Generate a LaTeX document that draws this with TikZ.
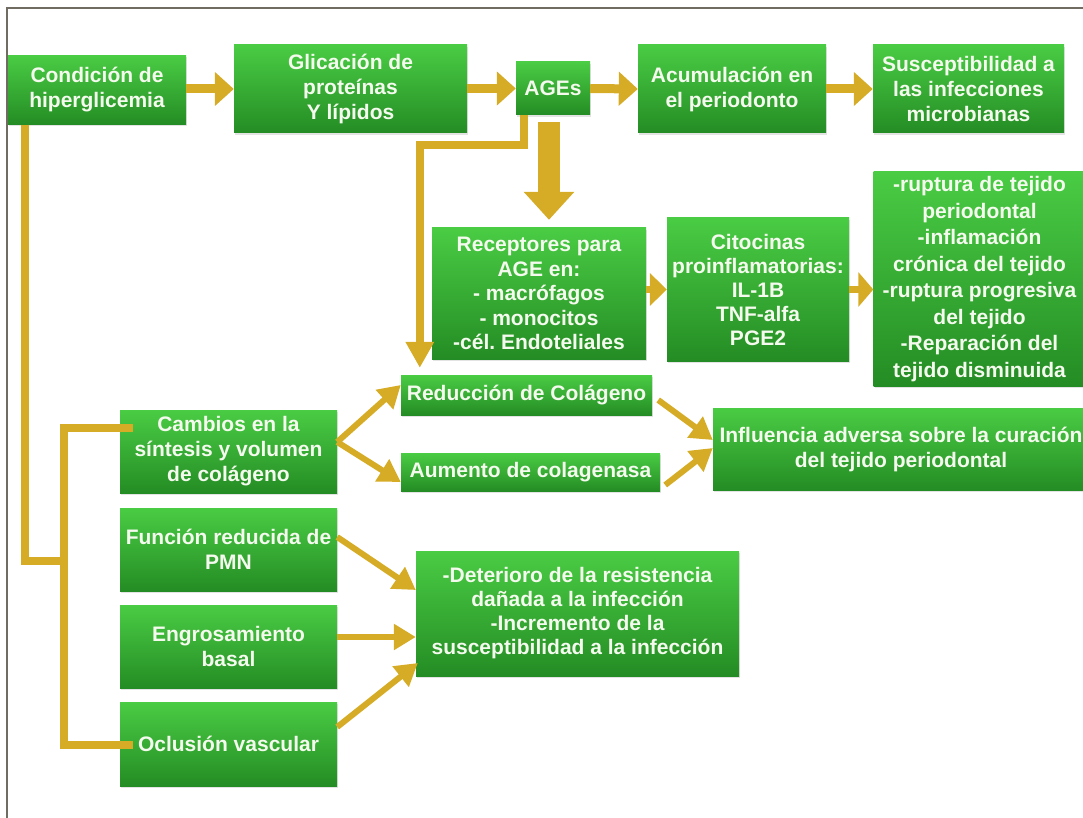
\documentclass[tikz,border=0pt]{standalone}
\usepackage{fontspec}
\setmainfont{Liberation Sans}
\usetikzlibrary{arrows.meta,shadows}
\definecolor{gold}{RGB}{214,172,38}
\definecolor{greentop}{RGB}{74,204,68}
\definecolor{greenbot}{RGB}{36,140,36}
\definecolor{boxtext}{RGB}{244,250,238}
\definecolor{framegray}{RGB}{112,108,98}

\begin{document}
\frenchspacing
\begin{tikzpicture}[x=1pt,y=-1pt,
  box/.style={rectangle, inner sep=0pt, align=center, text=boxtext,
    font=\fontsize{21}{25}\selectfont\bfseries,
    top color=greentop, bottom color=greenbot,
    drop shadow={opacity=0.22,shadow xshift=1pt,shadow yshift=-2pt}},
  sz/.style 2 args={minimum width=#1pt, minimum height=#2pt},
  blockarrow/.style={draw=gold, line width=9pt,
    -{Triangle[length=19pt,width=33pt]}},
  bigdown/.style={draw=gold, line width=22pt,
    -{Triangle[length=28pt,width=49pt]}},
  feed/.style={draw=gold, line width=8pt, line join=miter,
    -{Triangle[length=26pt,width=27pt]}},
  diag/.style={draw=gold, line width=6pt,
    -{Triangle[length=22pt,width=25pt]}},
  tree/.style={draw=gold, line width=7.5pt, line join=miter}]

\useasboundingbox (0,0) rectangle (1083,818);
\draw[framegray, line width=2pt] (7,8) rectangle (1100,840);

% top row
\node[box,sz={178}{69}] (cond) at (97,90) {Condición de\\hiperglicemia};
\node[box,sz={233}{88}] (glic) at (350.5,89) {Glicación de\\proteínas\\Y lípidos};
\node[box,sz={74}{53}] (ages) at (553,88.5) {AGEs};
\node[box,sz={188}{88}] (acum) at (732,89) {Acumulación en\\el periodonto};
\node[box,sz={191}{88}] (susc) at (968.5,89) {Susceptibilidad a\\las infecciones\\microbianas};

% receptor chain
\node[box,sz={214}{131}, font=\fontsize{21}{24.5}\selectfont\bfseries] (recep) at (539,293.5)
  {Receptores para\\AGE en:\\- macrófagos\\- monocitos\\-cél. Endoteliales};
\node[box,sz={182}{143}, font=\fontsize{21}{24}\selectfont\bfseries] (cito) at (758,289.5)
  {Citocinas\\proinflamatorias:\\IL-1B\\TNF-alfa\\PGE2};
\node[box,sz={212}{214}, font=\fontsize{21}{26.5}\selectfont\bfseries] (rupt) at (979.5,279)
  {-ruptura de tejido\\periodontal\\-inflamación\\crónica del tejido\\-ruptura progresiva\\del tejido\\-Reparación del\\tejido disminuida};

% collagen branch
\node[box,sz={251}{40}] (reduc) at (526.5,395) {Reducción de Colágeno};
\node[box,sz={259}{38}] (aum) at (530.5,472) {Aumento de colagenasa};
\node[box,sz={376}{82}] (infl) at (901,449) {Influencia adversa sobre la curación\\del tejido periodontal};

% left column
\node[box,sz={217}{83}] (cambios) at (228.5,451.5) {Cambios en la\\síntesis y volumen\\de colágeno};
\node[box,sz={217}{83}] (func) at (228.5,549.5) {Función reducida de\\PMN};
\node[box,sz={217}{83}] (engr) at (228.5,646.5) {Engrosamiento\\basal};
\node[box,sz={217}{84}] (oclu) at (228.5,744) {Oclusión vascular};
\node[box,sz={323}{125}, font=\fontsize{21}{24}\selectfont\bfseries] (deter) at (577.5,613.5)
  {-Deterioro de la resistencia\\dañada a la infección\\-Incremento de la\\susceptibilidad a la infección};

% top row arrows
\draw[blockarrow] (cond.east |- glic.west) -- (glic.west);
\draw[blockarrow] (glic.east |- ages.west) -- (ages.west);
\draw[blockarrow] (ages.east) -- (acum.west);
\draw[blockarrow] (acum.east) -- (susc.west);

% AGEs down to the receptors
\draw[bigdown] ([xshift=-4pt,yshift=-7pt]ages.south) -- ([xshift=10pt,yshift=8pt]recep.north);

% AGEs round to collagen reduction
\draw[feed] ([xshift=-29pt]ages.south) -- ++(0,30) -| ([xshift=19pt,yshift=7pt]reduc.north west);

% receptors -> cytokines -> tissue damage
\draw[blockarrow, line width=7pt, -{Triangle[length=17pt,width=32pt]}] (recep.east |- cito.west) -- (cito.west);
\draw[blockarrow, line width=7pt, -{Triangle[length=15pt,width=34pt]}] (cito.east) -- (rupt.west |- cito.east);

% left tree from hyperglycemia
\coordinate (junc) at (64,561);
\draw[tree] ([xshift=-72pt]cond.south) |- (junc);
\draw[tree] ([xshift=13pt,yshift=23.5pt]cambios.west) -| (junc) |- ([xshift=13pt,yshift=-1pt]oclu.west);

% collagen arrows
\draw[diag] ([yshift=9.5pt]cambios.east) -- ([yshift=10pt]reduc.west);
\draw[diag] ([yshift=9.5pt]cambios.east) -- ([yshift=-10pt]aum.west);
\draw[diag] ([xshift=6pt,yshift=-5pt]reduc.east) -- ([yshift=9pt]infl.west);
\draw[diag] ([xshift=5pt,yshift=-13pt]aum.east) -- ([yshift=1pt]infl.west);

% arrows into the resistance box
\draw[diag] ([yshift=12.5pt]func.east) -- ([yshift=23.5pt]deter.west);
\draw[diag] ([yshift=9.5pt]engr.east) -- ([yshift=-23.5pt]deter.west);
\draw[diag] ([yshift=17pt]oclu.east) -- ([xshift=2pt,yshift=-49.5pt]deter.west);
\end{tikzpicture}
\end{document}
